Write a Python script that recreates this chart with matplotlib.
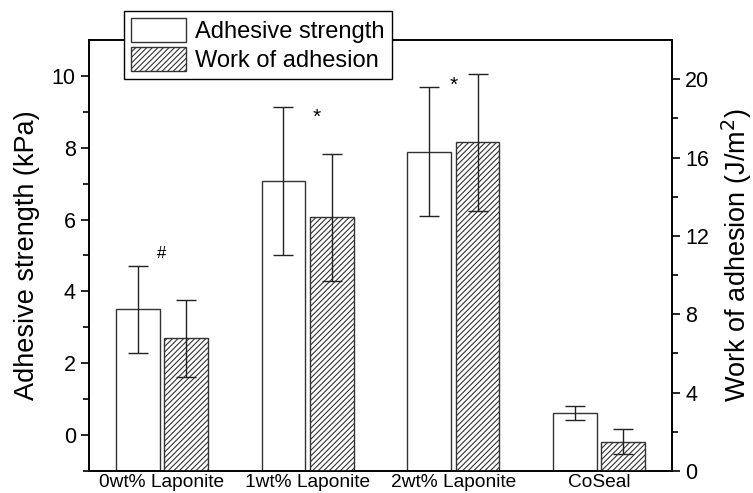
import matplotlib
matplotlib.use("Agg")
import matplotlib.pyplot as plt
import numpy as np
from matplotlib.ticker import FixedLocator
from matplotlib.patches import Patch

plt.rcParams['font.family'] = ['Liberation Sans', 'DejaVu Sans']
plt.rcParams['hatch.linewidth'] = 0.8

categories = ["0wt% Laponite", "1wt% Laponite", "2wt% Laponite", "CoSeal"]
strength = [3.50, 7.07, 7.89, 0.61]
strength_err = [1.22, 2.07, 1.80, 0.19]
work = [6.77, 12.94, 16.77, 1.50]
work_err = [1.97, 3.25, 3.50, 0.63]
annotations = ["#", "*", "*", ""]

fig = plt.figure(figsize=(7.53, 4.93), dpi=100)
ax = fig.add_axes([0.1182, 0.0446, 0.7742, 0.8743])
ax2 = ax.twinx()

x = np.arange(1, len(categories) + 1)
w = 0.30
off = 0.166
lmin, lmax = -1, 11
rmin, rmax = 0, 22

ax.bar(x - off, np.array(strength) - lmin, bottom=lmin, width=w, facecolor='white',
       edgecolor='#333333', linewidth=1.0, zorder=2)
ax.errorbar(x - off, strength, yerr=strength_err, fmt='none', ecolor='#222222',
            elinewidth=1.0, capsize=7, capthick=1.0, zorder=3)

ax2.bar(x + off, np.array(work) - rmin, bottom=rmin, width=w, facecolor='white',
        edgecolor='#333333', hatch='//////', linewidth=1.0, zorder=2)
ax2.errorbar(x + off, work, yerr=work_err, fmt='none', ecolor='#222222',
             elinewidth=1.0, capsize=7, capthick=1.0, zorder=3)

ax.set_xlim(0.5, 4.5)
ax.set_ylim(lmin, lmax)
ax2.set_ylim(rmin, rmax)

ax.set_xticks(x)
ax.set_xticklabels(categories, fontsize=13.8)
ax.tick_params(axis='x', length=0, pad=2)

ax.yaxis.set_major_locator(FixedLocator([0, 2, 4, 6, 8, 10]))
ax.yaxis.set_minor_locator(FixedLocator([-1, 1, 3, 5, 7, 9]))
ax.tick_params(axis='y', which='major', direction='out', length=6, width=1.2, labelsize=15.5)
ax.tick_params(axis='y', which='minor', direction='out', length=4, width=1.2)

ax2.yaxis.set_major_locator(FixedLocator([0, 4, 8, 12, 16, 20]))
ax2.yaxis.set_minor_locator(FixedLocator([2, 6, 10, 14, 18]))
ax2.tick_params(axis='y', which='major', direction='out', length=6, width=1.2, labelsize=15.5)
ax2.tick_params(axis='y', which='minor', direction='out', length=4, width=1.2)

for a in (ax, ax2):
    for s in a.spines.values():
        s.set_linewidth(1.2)
        s.set_color('black')

fig.text(27 / 753, 1 - 255 / 493, "Adhesive strength (kPa)", rotation=90,
         ha='center', va='center', fontsize=19.5)
fig.text(737 / 753, 1 - 255 / 493, "Work of adhesion (J/m$^2$)", rotation=90,
         ha='center', va='center', fontsize=19.5)

ax.text(x[0], 4.85, annotations[0], ha='center', va='bottom', fontsize=12)
ax.text(x[1] + 0.06, 8.85, annotations[1], ha='center', va='center', fontsize=15)
ax.text(x[2], 9.75, annotations[2], ha='center', va='center', fontsize=15)

handles = [Patch(facecolor='white', edgecolor='#333333', linewidth=1.0),
           Patch(facecolor='white', edgecolor='#333333', hatch='//////', linewidth=1.0)]
leg = fig.legend(handles, ["Adhesive strength", "Work of adhesion"], loc='upper left',
                 bbox_to_anchor=(124 / 753, 1 - 11 / 493), fontsize=17, frameon=True,
                 fancybox=False, edgecolor='black', framealpha=1.0,
                 handlelength=2.33, handleheight=1.2, labelspacing=0.16,
                 borderpad=0.3, handletextpad=0.38, borderaxespad=0)
leg.get_frame().set_linewidth(1.0)
leg.set_zorder(10)

fig.savefig("out.png", dpi=100)
